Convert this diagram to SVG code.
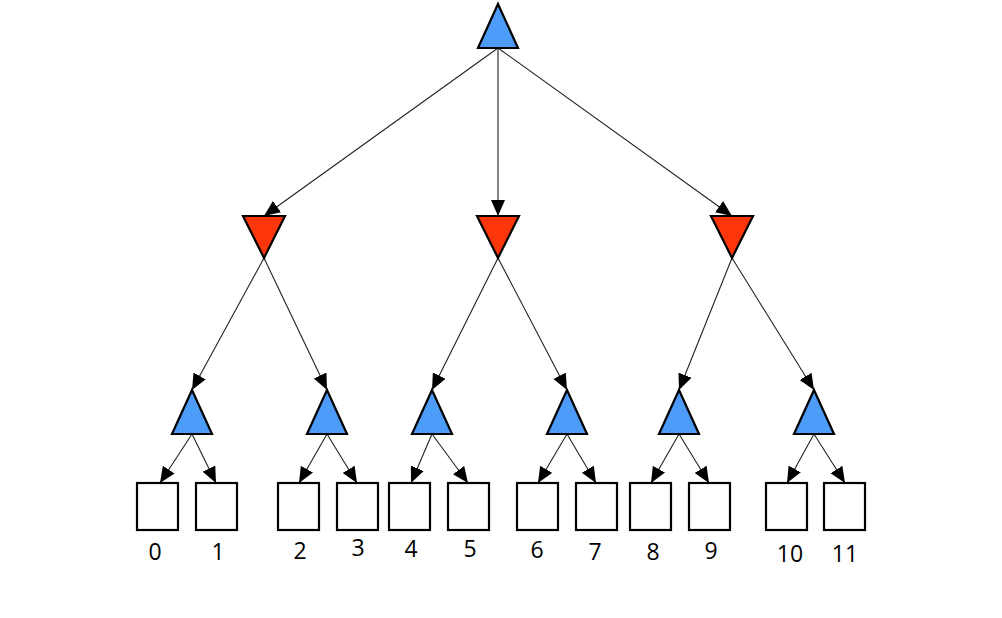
<svg xmlns="http://www.w3.org/2000/svg" width="1002" height="618" viewBox="0 0 1002 618">
<style>
.blue{fill:#4d9cfa;stroke:#000;stroke-width:2.2;stroke-linejoin:miter}
.red{fill:#fc3608;stroke:#000;stroke-width:2.2}
.box{fill:#fff;stroke:#000;stroke-width:2.2}
.edge{stroke:#222;stroke-width:1.1;fill:none;marker-end:url(#ah)}
.lbl{font-family:"Open Sans","Liberation Sans",sans-serif;font-size:23px;fill:#000;text-anchor:middle}
</style>
<defs>
<marker id="ah" markerUnits="userSpaceOnUse" markerWidth="17" markerHeight="15" refX="16" refY="7" orient="auto">
<path d="M0,0 L16,7 L0,14 z" fill="#000"/>
</marker>
</defs>
<rect width="1002" height="618" fill="#fff"/>
<g id="connectors">
<line class="edge" x1="498" y1="48" x2="264" y2="216"/>
<line class="edge" x1="498" y1="48" x2="498" y2="216"/>
<line class="edge" x1="498" y1="48" x2="732" y2="216"/>
<line class="edge" x1="264" y1="258" x2="192" y2="390"/>
<line class="edge" x1="264" y1="258" x2="327" y2="390"/>
<line class="edge" x1="498" y1="258" x2="432" y2="390"/>
<line class="edge" x1="498" y1="258" x2="567" y2="390"/>
<line class="edge" x1="732" y1="258" x2="679" y2="390"/>
<line class="edge" x1="732" y1="258" x2="814" y2="390"/>
<line class="edge" x1="192" y1="434" x2="160" y2="483"/>
<line class="edge" x1="192" y1="434" x2="216" y2="483"/>
<line class="edge" x1="327" y1="434" x2="299" y2="483"/>
<line class="edge" x1="327" y1="434" x2="357" y2="483"/>
<line class="edge" x1="432" y1="434" x2="411" y2="483"/>
<line class="edge" x1="432" y1="434" x2="468" y2="483"/>
<line class="edge" x1="567" y1="434" x2="538" y2="483"/>
<line class="edge" x1="567" y1="434" x2="596" y2="483"/>
<line class="edge" x1="679" y1="434" x2="651" y2="483"/>
<line class="edge" x1="679" y1="434" x2="709" y2="483"/>
<line class="edge" x1="814" y1="434" x2="787" y2="483"/>
<line class="edge" x1="814" y1="434" x2="845" y2="483"/>
</g>
<g id="root"><polygon class="blue" points="498,4 518,48 478,48"/></g>
<g id="min0"><polygon class="red" points="243,216 285,216 264,258"/></g>
<g id="min1"><polygon class="red" points="477,216 519,216 498,258"/></g>
<g id="min2"><polygon class="red" points="711,216 753,216 732,258"/></g>
<g id="max0"><polygon class="blue" points="192,390 212,434 172,434"/></g>
<g id="max1"><polygon class="blue" points="327,390 347,434 307,434"/></g>
<g id="max2"><polygon class="blue" points="432,390 452,434 412,434"/></g>
<g id="max3"><polygon class="blue" points="567,390 587,434 547,434"/></g>
<g id="max4"><polygon class="blue" points="679,390 699,434 659,434"/></g>
<g id="max5"><polygon class="blue" points="814,390 834,434 794,434"/></g>
<g id="leaf0"><rect class="box" x="137" y="483" width="41" height="47"/><text class="lbl" x="155" y="560">0</text></g>
<g id="leaf1"><rect class="box" x="196" y="483" width="41" height="47"/><text class="lbl" x="218" y="560">1</text></g>
<g id="leaf2"><rect class="box" x="278" y="483" width="41" height="47"/><text class="lbl" x="300" y="559">2</text></g>
<g id="leaf3"><rect class="box" x="337" y="483" width="41" height="47"/><text class="lbl" x="358" y="556">3</text></g>
<g id="leaf4"><rect class="box" x="389" y="483" width="41" height="47"/><text class="lbl" x="411" y="557">4</text></g>
<g id="leaf5"><rect class="box" x="448" y="483" width="41" height="47"/><text class="lbl" x="470" y="557">5</text></g>
<g id="leaf6"><rect class="box" x="517" y="483" width="41" height="47"/><text class="lbl" x="537" y="558">6</text></g>
<g id="leaf7"><rect class="box" x="576" y="483" width="41" height="47"/><text class="lbl" x="595" y="560">7</text></g>
<g id="leaf8"><rect class="box" x="630" y="483" width="41" height="47"/><text class="lbl" x="653" y="560">8</text></g>
<g id="leaf9"><rect class="box" x="689" y="483" width="41" height="47"/><text class="lbl" x="711" y="559">9</text></g>
<g id="leaf10"><rect class="box" x="766" y="483" width="41" height="47"/><text class="lbl" x="790" y="562">10</text></g>
<g id="leaf11"><rect class="box" x="824" y="483" width="41" height="47"/><text class="lbl" x="845" y="562">11</text></g>
</svg>
